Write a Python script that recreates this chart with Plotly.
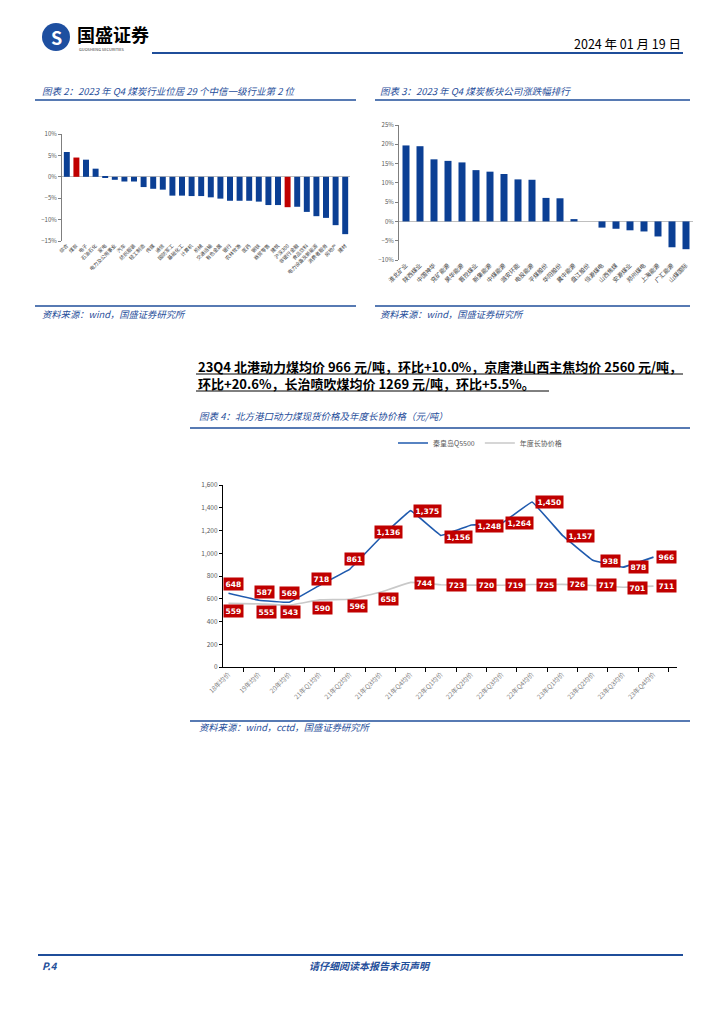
import plotly.graph_objects as go

W, H = 724, 1024
OFF = 8  # page body margin compensation
FONT = "Noto Sans CJK SC"
BLUE = "#0B3F94"
RED = "#C00000"
NAVY = "#1F4E9A"

# ---------------- data ----------------
ind_names = ["综合", "煤炭", "电子", "石油石化", "家电", "电力及公用事业", "汽车", "纺织服装",
             "轻工制造", "传媒", "通信", "国防军工", "基础化工", "计算机", "机械", "交通运输",
             "有色金属", "银行", "农林牧渔", "医药", "钢铁", "商贸零售", "建筑", "沪深300",
             "非银行金融", "食品饮料", "电力设备及新能源", "消费者服务", "房地产", "建材"]
ind_ret = [5.8, 4.5, 4.0, 1.9, -0.2, -0.7, -1.1, -1.1, -2.4, -2.8, -3.0, -4.4, -4.4, -4.5, -4.5,
           -4.8, -5.1, -5.6, -5.6, -5.6, -5.8, -6.6, -6.6, -7.1, -7.0, -8.2, -9.2, -9.6, -11.3, -13.4]
highlight = ["煤炭", "沪深300"]

coal_cos = ["淮北矿业", "陕西煤业", "中国神华", "兖矿能源", "昊华能源", "晋控煤业", "新集能源",
            "中煤能源", "潞安环能", "电投能源", "平煤股份", "华阳股份", "冀中能源", "盘江股份",
            "恒源煤电", "山西焦煤", "安源煤业", "郑州煤电", "上海能源", "广汇能源", "山煤国际"]
coal_ret = [19.7, 19.5, 16.1, 15.7, 15.3, 13.3, 12.9, 12.3, 10.9, 10.8, 6.1, 6.0, 0.6, 0.0,
            -1.6, -1.9, -2.3, -2.6, -3.9, -6.7, -7.2]

periods = ["18年均价", "19年均价", "20年均价", "21年Q1均价", "21年Q2均价", "21年Q3均价",
           "21年Q4均价", "22年Q1均价", "22年Q2均价", "22年Q3均价", "22年Q4均价",
           "23年Q1均价", "23年Q2均价", "23年Q3均价", "23年Q4均价"]
spot_price = [648, 587, 569, 718, 861, 1136, 1375, 1156, 1248, 1264, 1450, 1157, 938, 878, 966]
contract_price = [559, 555, 543, 590, 596, 658, 744, 723, 720, 719, 725, 726, 717, 701, 711]

# label offsets (style, pixels)
spot_off = [(5, 9), (6, 8), (0, 9), (2, 6), (5, 10), (8, 6), (17, 0), (17, -1), (18, -1),
            (18, 0), (17, 0), (18, -1), (18, -1), (15, 0), (13, 0)]
contract_off = [(5, -8), (8, -8), (1, -7), (3, -8), (8, -7), (8, -7), (14, -1), (15, 0),
                (15, 0), (14, 0), (14, 0), (15, 0), (14, 0), (14, -1), (13, 0)]


def px(x):
    return (x - OFF) / W


def py(y):
    return 1 - (y - OFF) / H


fig = go.Figure()

fig.add_trace(go.Bar(x=ind_names, y=ind_ret, xaxis="x", yaxis="y", showlegend=False, width=0.62,
                     marker=dict(color=[RED if n in highlight else BLUE for n in ind_names],
                                 line=dict(width=0))))
fig.add_trace(go.Bar(x=coal_cos, y=coal_ret, xaxis="x2", yaxis="y2", showlegend=False, width=0.5,
                     marker=dict(color=BLUE, line=dict(width=0))))
fig.add_trace(go.Scatter(x=periods, y=spot_price, xaxis="x3", yaxis="y3", mode="lines",
                         name="秦皇岛Q5500", line=dict(color="#1F5AAE", width=1.6,
                                                       shape="spline", smoothing=0.15)))
fig.add_trace(go.Scatter(x=periods, y=contract_price, xaxis="x3", yaxis="y3", mode="lines",
                         name="年度长协价格", line=dict(color="#C9C9C9", width=1.6,
                                                    shape="spline", smoothing=0.15)))

ann = []
shapes = []


def text(x, y, s, size, color="black", xanchor="left", italic=False, bold=False):
    ann.append(dict(x=px(x), y=py(y), xref="paper", yref="paper", text=(f"<b>{s}</b>" if bold else s),
                    showarrow=False, xanchor=xanchor, yanchor="middle",
                    font=dict(family=FONT, size=size, color=color,
                              style="italic" if italic else "normal")))


def hline(x0, x1, y, color=NAVY, width=1.5):
    shapes.append(dict(type="line", xref="paper", yref="paper", x0=px(x0), x1=px(x1),
                       y0=py(y), y1=py(y), line=dict(color=color, width=width)))


# header
shapes.append(dict(type="circle", xref="paper", yref="paper", x0=px(42), x1=px(70),
                   y0=py(51), y1=py(23), fillcolor="#1E4FA0", line=dict(width=0)))
text(56, 37, "<b>S</b>", 18, color="white", xanchor="center")
text(75, 34, "国盛证券", 18, bold=True)
text(77, 49, "GUOSHENG SECURITIES", 4, color="#333")
text(683, 43, "2024 年 01 月 19 日", 12.5, xanchor="right")
hline(152, 683, 53, color="#1F4E9A", width=2)

# chart 2 / 3 titles and sources
text(40, 91, "图表 2：2023 年 Q4 煤炭行业位居 29 个中信一级行业第 2 位", 9.5, color=NAVY, italic=True)
hline(35, 356, 100)
text(378, 91, "图表 3：2023 年 Q4 煤炭板块公司涨跌幅排行", 9.5, color=NAVY, italic=True)
hline(375, 690, 100)
hline(35, 356, 306)
hline(375, 690, 306)
text(40, 314, "资料来源：wind，国盛证券研究所", 9.3, color=NAVY, italic=True)
text(378, 314, "资料来源：wind，国盛证券研究所", 9.3, color=NAVY, italic=True)

# paragraph
text(196, 366, "23Q4 北港动力煤均价 966 元/吨，环比+10.0%，京唐港山西主焦均价 2560 元/吨，", 13, bold=True)
text(196, 383, "环比+20.6%，长治喷吹煤均价 1269 元/吨，环比+5.5%。", 13, bold=True)
hline(196, 683, 374, color="black", width=1)
hline(196, 549, 391, color="black", width=1)

# chart 4 title / source
text(197, 416, "图表 4：北方港口动力煤现货价格及年度长协价格（元/吨）", 9.5, color=NAVY, italic=True)
hline(190, 690, 428)
hline(190, 690, 721)
text(197, 727, "资料来源：wind，cctd，国盛证券研究所", 9.3, color=NAVY, italic=True)

# footer
hline(38, 683, 955, color="#1F4E9A", width=2)
text(40, 965, "<b>P.4</b>", 10, color=NAVY, italic=True)
text(370, 965, "<b>请仔细阅读本报告末页声明</b>", 10, color=NAVY, italic=True, xanchor="center")

# chart 4 data labels
for p, v, (dx, dy) in zip(periods, spot_price, spot_off):
    ann.append(dict(x=p, y=v, xref="x3", yref="y3", text=f"<b>{v:,}</b>", showarrow=False,
                    xshift=dx, yshift=dy, bgcolor=RED, borderpad=1.5,
                    font=dict(family="DejaVu Sans", size=7.5, color="white")))
for p, v, (dx, dy) in zip(periods, contract_price, contract_off):
    ann.append(dict(x=p, y=v, xref="x3", yref="y3", text=f"<b>{v:,}</b>", showarrow=False,
                    xshift=dx, yshift=dy, bgcolor=RED, borderpad=1.5,
                    font=dict(family="DejaVu Sans", size=7.5, color="white")))

tickfont = dict(family=FONT, size=6, color="#595959")

fig.update_layout(
    width=W, height=H, autosize=False,
    margin=dict(l=0, r=0, t=0, b=0, pad=0, autoexpand=False),
    paper_bgcolor="white", plot_bgcolor="white",
    font=dict(family=FONT),
    annotations=ann, shapes=shapes,
    legend=dict(orientation="h", x=px(480), xanchor="center", y=py(443), yanchor="middle",
                font=dict(family=FONT, size=7, color="#595959"), bgcolor="rgba(0,0,0,0)"),
    xaxis=dict(domain=[px(62), px(350)], anchor="y", tickangle=-45, automargin=False,
               tickfont=dict(family=FONT, size=5, color="#404040"),
               showline=False, showgrid=False, ticks=""),
    yaxis=dict(domain=[py(241), py(134)], anchor="x", range=[-15, 10], dtick=5, ticksuffix="%",
               automargin=False,
               tickfont=tickfont, showline=True, linecolor="#7F7F7F", linewidth=1,
               ticks="outside", ticklen=3, tickcolor="#7F7F7F", showgrid=False,
               zeroline=True, zerolinecolor="#BFBFBF", zerolinewidth=1),
    xaxis2=dict(domain=[px(399), px(693)], anchor="y2", tickangle=-45, automargin=False,
                tickfont=dict(family=FONT, size=6, color="#404040"),
                showline=False, showgrid=False, ticks=""),
    yaxis2=dict(domain=[py(260), py(125)], anchor="x2", range=[-10, 25], dtick=5, ticksuffix="%",
                automargin=False,
                tickfont=tickfont, showline=True, linecolor="#7F7F7F", linewidth=1,
                ticks="outside", ticklen=3, tickcolor="#7F7F7F", showgrid=False,
                zeroline=True, zerolinecolor="#BFBFBF", zerolinewidth=1),
    xaxis3=dict(domain=[px(223), px(677)], anchor="y3", tickangle=-45, automargin=False,
                tickfont=dict(family=FONT, size=6.5, color="#7F7F7F"),
                showline=True, linecolor="black", linewidth=1.2, ticks="outside",
                tickson="boundaries", ticklen=4, tickcolor="black", showgrid=False),
    yaxis3=dict(domain=[py(667), py(485)], anchor="x3", range=[0, 1600], dtick=200,
                automargin=False,
                tickformat=",", tickfont=dict(family=FONT, size=6.5, color="#595959"),
                showline=True, linecolor="black", linewidth=1.2, ticks="outside", ticklen=3,
                tickcolor="black", showgrid=False, zeroline=False),
)

fig.write_html("out.html", config={"responsive": False})
